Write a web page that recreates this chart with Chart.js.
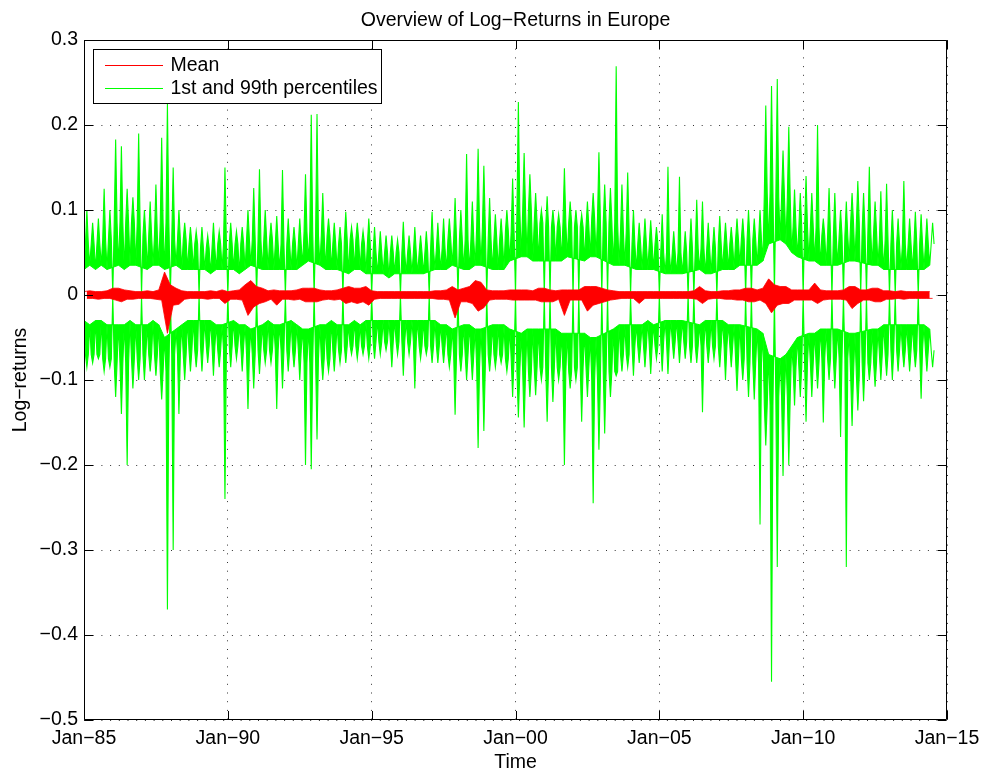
<!DOCTYPE html>
<html>
<head>
<meta charset="utf-8">
<script src="https://cdn.jsdelivr.net/npm/chart.js@4/dist/chart.umd.min.js"></script>
<style>
  html, body { margin: 0; padding: 0; background: #fff; }
  #wrap { width: 987px; height: 774px; }
</style>
</head>
<body>
<div id="wrap"><canvas id="c" width="987" height="774"></canvas></div>
<script>
// ---- Data (one column = 0.2 year, starting Jan 1985) ----
const startYear = 1985.0;
const colStep = 0.2;

// 99th percentile: column maxima (spike tops)
const upperHigh = [
  .100,.085,.090,.125,.100,  .183,.175,.125,.115,.190,  .100,.110,.130,.185,.225,
  .150,.100,.085,.080,.075,  .080,.070,.085,.075,.150,  .085,.075,.080,.100,.126,
  .148,.100,.085,.093,.147,  .090,.080,.090,.142,.212,  .213,.120,.090,.085,.080,
  .098,.080,.085,.075,.090,  .080,.075,.070,.070,.065,  .086,.070,.080,.070,.075,
  .098,.085,.090,.090,.114,  .100,.166,.110,.172,.152,  .114,.095,.090,.100,.137,
  .227,.167,.142,.120,.100,  .116,.100,.095,.149,.110,  .100,.095,.110,.120,.168,
  .130,.126,.269,.130,.144,  .100,.085,.090,.088,.080,  .095,.151,.075,.139,.075,
  .090,.112,.110,.085,.080,  .093,.085,.080,.090,.090,  .100,.090,.100,.223,.246,
  .254,.170,.198,.124,.120,  .140,.120,.200,.090,.126,  .120,.100,.110,.120,.134,
  .120,.151,.110,.122,.131,  .100,.090,.134,.090,.098,  .095,.090,.085
];
// 99th percentile: column minima (inner edge; 0 on holidays)
const upperLow = [
  .030,.035,.030,.035,.030,  0,.035,.030,.035,.035,  0,.030,.035,.035,.030,
  0,.035,.030,.030,.030,  0,.030,.025,.030,.030,  0,.030,.025,.030,.035,
  0,.030,.030,.030,.030,  0,.030,.030,.035,.040,  0,.035,.030,.030,.030,
  0,.025,.030,.030,.025,  0,.025,.025,.020,.025,  0,.025,.025,.025,.025,
  0,.030,.030,.030,.035,  0,.030,.030,.035,.035,  0,.030,.030,.030,.040,
  0,.045,.045,.040,.040,  0,0,.040,.040,.045,  0,0,.040,.045,.045,
  0,0,.035,.035,.035,  0,.030,.030,.030,.030,  0,.025,.025,.025,.025,
  0,0,.030,.025,.025,  0,.030,.030,.030,.035,  0,0,.035,.040,.060,
  0,.065,.060,.050,.045,  0,.040,.040,.035,.035,  0,.035,0,.040,.040,
  0,0,.035,.035,.030,  0,0,.030,.030,.030,  0,.030,.035
];
// 99th percentile: top of the dense core, per half-year (H1, H2)
const upperCore = [
  .060,.065, .085,.085, .070,.085, .065,.060, .055,.060, .060,.065,
  .065,.060, .060,.075, .070,.060, .065,.060, .050,.050, .050,.050,
  .055,.065, .065,.080, .065,.075, .100,.085, .080,.085, .080,.090,
  .085,.075, .060,.060, .050,.050, .055,.055, .060,.065, .065,.120,
  .115,.080, .080,.070, .070,.085, .075,.065, .060,.060, .060,.060
];
// 1st percentile: column maxima (inner edge; 0 on holidays)
const lowerHigh = [
  -.030,-.035,-.030,-.030,-.035,  0,-.035,-.035,-.030,-.035,  0,-.035,-.030,-.035,-.050,
  0,-.040,-.035,-.030,-.030,  0,-.030,-.030,-.035,-.035,  0,-.030,-.035,-.035,-.040,
  0,-.035,-.030,-.035,-.035,  0,-.030,-.035,-.040,-.040,  0,-.035,-.035,-.030,-.035,
  0,-.035,-.030,-.035,-.030,  0,-.030,-.030,-.030,-.030,  0,-.030,-.030,-.030,-.030,
  0,-.030,-.035,-.035,-.040,  0,-.035,-.035,-.040,-.040,  0,-.035,-.035,-.035,-.040,
  0,-.045,-.040,-.040,-.040,  0,0,-.040,-.045,-.045,  0,0,-.045,-.050,-.050,
  0,0,-.040,-.035,-.035,  0,-.035,-.035,-.030,-.035,  0,-.030,-.030,-.030,-.030,
  0,0,-.035,-.030,-.030,  0,-.030,-.035,-.035,-.035,  0,0,-.040,-.045,-.070,
  0,-.075,-.070,-.060,-.050,  0,-.045,-.045,-.040,-.040,  0,-.040,0,-.045,-.045,
  0,0,-.040,-.040,-.035,  0,0,-.035,-.035,-.035,  0,-.035,-.040
];
// 1st percentile: column minima (spike bottoms)
const lowerLow = [
  -.085,-.080,-.075,-.090,-.085,  -.120,-.140,-.200,-.110,-.100,  -.100,-.090,-.095,-.123,-.370,
  -.300,-.140,-.100,-.090,-.085,  -.090,-.080,-.095,-.085,-.240,  -.085,-.075,-.090,-.134,-.110,
  -.093,-.080,-.080,-.134,-.110,  -.090,-.085,-.100,-.200,-.205,  -.170,-.100,-.090,-.090,-.080,
  -.080,-.070,-.075,-.070,-.075,  -.075,-.070,-.065,-.085,-.070,  -.095,-.070,-.110,-.075,-.070,
  -.080,-.080,-.080,-.085,-.141,  -.090,-.100,-.100,-.180,-.160,  -.090,-.085,-.080,-.090,-.120,
  -.144,-.156,-.120,-.118,-.100,  -.149,-.126,-.100,-.200,-.110,  -.100,-.149,-.120,-.245,-.182,
  -.163,-.120,-.095,-.090,-.085,  -.095,-.080,-.085,-.093,-.075,  -.090,-.093,-.075,-.080,-.075,
  -.080,-.080,-.138,-.080,-.075,  -.085,-.100,-.085,-.113,-.100,  -.120,-.123,-.270,-.177,-.455,
  -.320,-.213,-.200,-.130,-.120,  -.149,-.120,-.110,-.150,-.100,  -.110,-.167,-.320,-.154,-.136,
  -.125,-.100,-.108,-.100,-.095,  -.100,-.090,-.085,-.090,-.085,  -.122,-.090,-.085
];
// 1st percentile: bottom of the dense core, per half-year (H1, H2)
const lowerCore = [
  -.070,-.075, -.080,-.075, -.070,-.090, -.070,-.065, -.060,-.065, -.060,-.070,
  -.065,-.065, -.065,-.080, -.075,-.065, -.060,-.060, -.055,-.055, -.055,-.060,
  -.060,-.070, -.070,-.085, -.070,-.075, -.090,-.085, -.085,-.090, -.085,-.100,
  -.090,-.070, -.060,-.060, -.055,-.055, -.060,-.060, -.060,-.075, -.080,-.130,
  -.120,-.085, -.080,-.075, -.075,-.095, -.080,-.070, -.065,-.065, -.065,-.065
];
// Mean: column maxima / minima
const meanHigh = [
  .004,.005,.004,.004,.005,  .008,.008,.006,.005,.004,  .004,.005,.004,.006,.027,
  .012,.008,.005,.004,.004,  .004,.004,.005,.004,.006,  .004,.005,.006,.012,.017,
  .010,.008,.005,.006,.005,  .005,.005,.006,.008,.008,  .008,.006,.005,.005,.006,
  .008,.010,.008,.008,.010,  .005,.004,.004,.004,.004,  .004,.004,.004,.004,.004,
  .004,.005,.005,.006,.010,  .006,.008,.010,.017,.015,  .006,.005,.005,.005,.006,
  .006,.006,.006,.005,.008,  .008,.006,.005,.006,.006,  .006,.006,.010,.010,.010,
  .008,.006,.005,.004,.004,  .004,.004,.004,.004,.004,  .004,.004,.004,.004,.004,
  .004,.005,.010,.005,.004,  .004,.005,.005,.006,.006,  .008,.008,.006,.008,.019,
  .012,.010,.010,.006,.006,  .006,.006,.014,.006,.005,  .005,.005,.006,.010,.010,
  .006,.006,.008,.008,.005,  .005,.004,.005,.004,.004,  .004,.004,.004
];
const meanLow = [
  -.004,-.004,-.005,-.004,-.004,  -.006,-.008,-.005,-.005,-.004,  -.004,-.004,-.005,-.006,-.045,
  -.012,-.011,-.005,-.004,-.004,  -.004,-.005,-.004,-.004,-.010,  -.005,-.005,-.006,-.024,-.014,
  -.010,-.008,-.005,-.012,-.005,  -.005,-.006,-.005,-.008,-.008,  -.008,-.006,-.005,-.006,-.005,
  -.010,-.008,-.010,-.008,-.012,  -.005,-.004,-.004,-.004,-.004,  -.004,-.004,-.004,-.004,-.004,
  -.004,-.005,-.005,-.006,-.027,  -.008,-.008,-.010,-.019,-.015,  -.006,-.005,-.005,-.005,-.006,
  -.006,-.006,-.006,-.006,-.008,  -.008,-.008,-.005,-.024,-.006,  -.006,-.006,-.019,-.012,-.010,
  -.008,-.006,-.005,-.004,-.004,  -.004,-.010,-.004,-.004,-.004,  -.004,-.004,-.004,-.004,-.004,
  -.004,-.005,-.010,-.005,-.004,  -.004,-.005,-.005,-.006,-.006,  -.008,-.008,-.006,-.010,-.021,
  -.012,-.010,-.010,-.006,-.006,  -.006,-.006,-.010,-.006,-.005,  -.005,-.005,-.006,-.016,-.010,
  -.006,-.006,-.008,-.008,-.005,  -.005,-.004,-.005,-.004,-.004,  -.004,-.004,-.004
];

const xTickValues = [1985, 1990, 1995, 2000, 2005, 2010, 2015];
const xTickLabels = ['Jan\u221285','Jan\u221290','Jan\u221295','Jan\u221200','Jan\u221205','Jan\u221210','Jan\u221215'];
const yTickValues = [-0.5, -0.4, -0.3, -0.2, -0.1, 0, 0.1, 0.2, 0.3];
const yTickLabels = ['\u22120.5','\u22120.4','\u22120.3','\u22120.2','\u22120.1','0','0.1','0.2','0.3'];
const seriesLabels = ['Mean', '1st and 99th percentiles'];
const titleText = 'Overview of Log\u2212Returns in Europe';
const xTitle = 'Time';
const yTitle = 'Log\u2212returns';

// ---- build line tables ----
// band: inner edge -> core -> spike -> core, per column
function band(inner, spike, core) {
  const pts = [];
  const q = colStep / 4;
  for (let i = 0; i < inner.length; i++) {
    const t = startYear + i * colStep;
    const c = core[Math.floor(i / 5) * 2 + ((i % 5) >= 3 ? 1 : 0)];
    pts.push({x: t, y: inner[i]});
    pts.push({x: t + q, y: c});
    pts.push({x: t + 2 * q, y: spike[i]});
    pts.push({x: t + 3 * q, y: c});
  }
  return pts;
}
// edge line through one reading per column (holiday zeros left out)
function edge(vals, offset) {
  const pts = [];
  for (let i = 0; i < vals.length; i++) {
    if (vals[i] === 0) continue;
    pts.push({x: startYear + i * colStep + offset, y: vals[i]});
  }
  return pts;
}

const FONT = "'Liberation Sans', Arial, Helvetica, sans-serif";
const RED = '#ff0000', GREEN = '#00ff00';
const legendDatasets = [0, 2];

const framePlugin = {
  id: 'frame',
  afterDatasetsDraw(chart) {
    const {ctx, chartArea: a, scales: {x, y}} = chart;
    const L = Math.round(a.left) + 0.5, R = Math.round(a.right) - 0.5;
    const T = Math.round(a.top) + 0.5, B = Math.round(a.bottom) - 0.5;
    const tl = 8.5;
    ctx.save();
    ctx.strokeStyle = '#000';
    ctx.lineWidth = 1;
    ctx.setLineDash([]);
    ctx.beginPath();
    ctx.rect(L, T, R - L, B - T);
    xTickValues.forEach(v => {
      const px = Math.round(x.getPixelForValue(v)) + 0.5;
      ctx.moveTo(px, B); ctx.lineTo(px, B - tl);
      ctx.moveTo(px, T); ctx.lineTo(px, T + tl);
    });
    yTickValues.forEach(v => {
      const py = Math.round(y.getPixelForValue(v)) + 0.5;
      ctx.moveTo(L, py); ctx.lineTo(L + tl, py);
      ctx.moveTo(R, py); ctx.lineTo(R - tl, py);
    });
    ctx.stroke();
    ctx.restore();
  },
  afterDraw(chart) {
    const {ctx, chartArea: a} = chart;
    const lx = Math.round(a.left) + 9.5, ly = Math.round(a.top) + 9.5;
    const w = 288, h = 54;
    ctx.save();
    ctx.fillStyle = '#fff';
    ctx.fillRect(lx, ly, w, h);
    ctx.strokeStyle = '#000';
    ctx.lineWidth = 1;
    ctx.strokeRect(lx, ly, w, h);
    const rows = [ly + 15, ly + 38];
    legendDatasets.forEach((di, k) => {
      const ds = chart.data.datasets[di];
      ctx.strokeStyle = ds.borderColor;
      ctx.lineWidth = 1.2;
      ctx.beginPath();
      ctx.moveTo(lx + 11.5, Math.round(rows[k]) + 0.5);
      ctx.lineTo(lx + 69.5, Math.round(rows[k]) + 0.5);
      ctx.stroke();
      ctx.fillStyle = '#000';
      ctx.font = '19.5px ' + FONT;
      ctx.textBaseline = 'middle';
      ctx.textAlign = 'left';
      ctx.fillText(ds.label, lx + 77, rows[k] + 1);
    });
    ctx.restore();
  }
};

new Chart(document.getElementById('c'), {
  type: 'line',
  data: {
    datasets: [
      { label: seriesLabels[0], data: edge(meanHigh, 0), borderColor: RED, backgroundColor: RED, borderWidth: 0.8, fill: '+1' },
      { label: '', data: edge(meanLow, colStep / 2), borderColor: RED, borderWidth: 0.8, fill: false },
      { label: seriesLabels[1], data: band(upperLow, upperHigh, upperCore), borderColor: GREEN, backgroundColor: GREEN, borderWidth: 1.1, fill: '+1' },
      { label: '', data: edge(upperLow, 0), borderColor: GREEN, borderWidth: 1, fill: false },
      { label: '', data: band(lowerHigh, lowerLow, lowerCore), borderColor: GREEN, backgroundColor: GREEN, borderWidth: 1.1, fill: '+1' },
      { label: '', data: edge(lowerHigh, 0), borderColor: GREEN, borderWidth: 1, fill: false }
    ]
  },
  options: {
    responsive: false,
    devicePixelRatio: 1,
    animation: false,
    events: [],
    parsing: false,
    normalized: true,
    elements: { point: { radius: 0 }, line: { tension: 0, borderJoinStyle: 'miter' } },
    layout: { padding: { left: 0, right: 40, top: 0, bottom: 0 } },
    plugins: {
      legend: { display: false },
      tooltip: { enabled: false },
      filler: { propagate: false },
      title: {
        display: true, text: titleText, fullSize: false, color: '#000',
        font: { family: FONT, size: 19.5, weight: 'normal', lineHeight: 1.2 },
        padding: { top: 9.3, bottom: 7.3 }
      }
    },
    scales: {
      x: {
        type: 'linear', min: 1985, max: 2015,
        afterBuildTicks: s => { s.ticks = xTickValues.map(v => ({ value: v })); },
        afterFit: s => { s.height = 54; },
        ticks: {
          autoSkip: false, maxRotation: 0, minRotation: 0, padding: 7, color: '#000',
          font: { family: FONT, size: 19.5 },
          callback: (v, i) => xTickLabels[i]
        },
        grid: { drawTicks: false, color: 'rgba(0,0,0,0.8)', lineWidth: 1 },
        border: { display: false, dash: [1, 7.7] },
        title: { display: true, text: xTitle, color: '#000', font: { family: FONT, size: 19.5 }, padding: { top: 0, bottom: 0 } }
      },
      y: {
        type: 'linear', min: -0.5, max: 0.3,
        afterBuildTicks: s => { s.ticks = yTickValues.map(v => ({ value: v })); },
        afterFit: s => { s.width = 84; },
        ticks: {
          autoSkip: false, padding: 6, color: '#000',
          font: { family: FONT, size: 19.5 },
          callback: (v, i) => yTickLabels[i]
        },
        grid: { drawTicks: false, color: 'rgba(0,0,0,0.8)', lineWidth: 1 },
        border: { display: false, dash: [1, 7.7] },
        title: { display: true, text: yTitle, color: '#000', font: { family: FONT, size: 19.5 }, padding: { top: 9, bottom: 0 } }
      }
    }
  },
  plugins: [framePlugin]
});
</script>
</body>
</html>
